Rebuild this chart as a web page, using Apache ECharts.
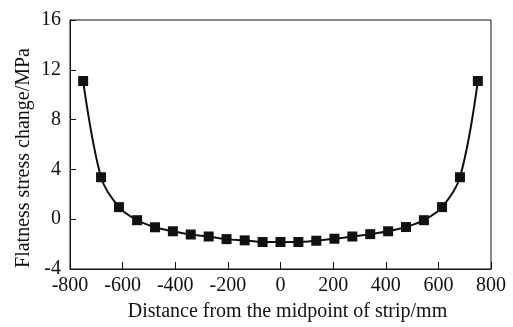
<!DOCTYPE html>
<html>
<head>
<meta charset="utf-8">
<script src="https://cdn.jsdelivr.net/npm/echarts@6/dist/echarts.min.js"></script>
<style>
  html, body { margin: 0; padding: 0; background: #fff; }
  #chart { width: 513px; height: 327px; }
</style>
</head>
<body>
<div id="chart"></div>
<script>
// Distance from strip midpoint (mm) and flatness stress change (MPa)
const distance = [-750, -682, -614, -545, -477, -409, -341, -273, -205, -136, -68, 0,
                  68, 136, 205, 273, 341, 409, 477, 545, 614, 682, 750];
const stressChange = [11.1, 3.37, 0.97, -0.08, -0.65, -0.97, -1.23, -1.39, -1.6, -1.7, -1.83, -1.83,
                      -1.83, -1.73, -1.57, -1.39, -1.2, -0.97, -0.63, -0.08, 0.97, 3.37, 11.1];
const xTicks = { min: -800, max: 800, step: 200 };
const yTicks = { min: -4, max: 16, step: 4 };
const xTitle = 'Distance from the midpoint of strip/mm';
const yTitle = 'Flatness stress change/MPa';

const font = '"Liberation Serif", "Times New Roman", serif';
const ink = '#111';

const chart = echarts.init(document.getElementById('chart'), null, { renderer: 'canvas' });
chart.setOption({
  animation: false,
  backgroundColor: '#fff',
  grid: {
    left: 70, right: 22, top: 20, bottom: 52,
    show: true, borderColor: ink, borderWidth: 1, backgroundColor: 'transparent'
  },
  graphic: [{
    type: 'text',
    x: 24, y: 158,
    rotation: Math.PI / 2,
    style: {
      text: yTitle, fontFamily: font, fontSize: 20, fill: ink,
      align: 'center', verticalAlign: 'middle'
    }
  }],
  xAxis: {
    type: 'value',
    min: xTicks.min, max: xTicks.max, interval: xTicks.step,
    name: xTitle,
    nameLocation: 'middle', nameGap: 33,
    nameTextStyle: { fontFamily: font, fontSize: 20, color: ink, padding: [0, 0, 0, 14] },
    axisLine: { show: true, onZero: false, lineStyle: { color: ink, width: 1 } },
    axisTick: { show: true, inside: true, length: 7, lineStyle: { color: ink, width: 1 } },
    axisLabel: { fontFamily: font, fontSize: 20, color: ink, margin: 7 },
    splitLine: { show: false }
  },
  yAxis: {
    type: 'value',
    min: yTicks.min, max: yTicks.max, interval: yTicks.step,
    axisLine: { show: true, onZero: false, lineStyle: { color: ink, width: 1 } },
    axisTick: { show: true, inside: true, length: 6, lineStyle: { color: ink, width: 1 } },
    axisLabel: { fontFamily: font, fontSize: 20, color: ink, margin: 9 },
    splitLine: { show: false }
  },
  series: [{
    type: 'line',
    data: distance.map((d, i) => [d, stressChange[i]]),
    smooth: 0.35,
    symbol: 'rect',
    symbolSize: 10,
    lineStyle: { color: ink, width: 2 },
    itemStyle: { color: ink, borderWidth: 0 }
  }]
});
</script>
</body>
</html>
